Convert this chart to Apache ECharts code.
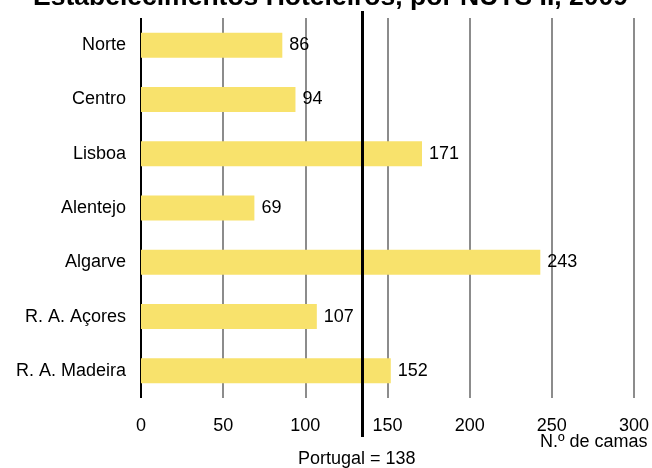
<!DOCTYPE html>
<html><head><meta charset="utf-8">
<script src="https://cdn.jsdelivr.net/npm/echarts@6/dist/echarts.min.js"></script>
<style>html,body{margin:0;padding:0;background:#fff}#c{width:652px;height:468px}</style>
</head><body><div id="c"></div>
<script>
const categories = ['Norte','Centro','Lisboa','Alentejo','Algarve','R. A. Açores','R. A. Madeira'];
const values = [86, 94, 171, 69, 243, 107, 152];
const xTicks = [0, 50, 100, 150, 200, 250, 300];
const portugalValue = 138;
const portugalLinePos = 134;
const titleText = 'Estabelecimentos Hoteleiros, por NUTS II, 2009';
const unitText = 'N.º de camas';

const FONT = 'Liberation Sans, Arial, sans-serif';
const chart = echarts.init(document.getElementById('c'), null, {renderer:'canvas'});
const L = 141, R = 16;
chart.setOption({
  animation:false,
  title:{text:titleText, left:28, top:-21, textStyle:{fontFamily:FONT, fontSize:26.5, fontWeight:'bold', color:'#000'}},
  grid:[
    {left:L, right:R, top:18, bottom:70},
    {left:L, right:R, top:11, bottom:31}
  ],
  xAxis:[
    {gridIndex:0, type:'value', min:0, max:300, interval:50,
     axisLine:{show:false}, axisTick:{show:false},
     axisLabel:{margin:19, fontFamily:FONT, fontSize:18, color:'#000',
       formatter:function(v){return xTicks.indexOf(v)>=0?String(v):'';}},
     splitLine:{show:true, lineStyle:{color:['#000','#8c8c8c','#8c8c8c','#8c8c8c','#8c8c8c','#8c8c8c','#8c8c8c'], width:2}}},
    {gridIndex:1, type:'value', min:0, max:300, show:false}
  ],
  yAxis:[
    {gridIndex:0, type:'category', data:categories, inverse:true,
     axisLine:{show:false}, axisTick:{show:false},
     axisLabel:{margin:15, fontFamily:FONT, fontSize:18, color:'#000'}},
    {gridIndex:1, type:'value', show:false, min:0, max:1}
  ],
  series:[
    {type:'bar', xAxisIndex:0, yAxisIndex:0, data:values, barWidth:'46%', z:3,
     itemStyle:{color:'#F8E26C'},
     label:{show:true, position:'right', distance:7, fontFamily:FONT, fontSize:18, color:'#000'}},
    {type:'line', xAxisIndex:1, yAxisIndex:1, data:[], z:5,
     markLine:{silent:true, symbol:['none','none'], label:{show:false},
       lineStyle:{color:'#000', width:3, type:'solid'},
       data:[{xAxis:portugalLinePos}]}}
  ],
  graphic:[
    {type:'text', left:540, top:433, style:{text:unitText, fontFamily:FONT, fontSize:18, fill:'#000'}},
    {type:'text', left:298, top:450, style:{text:'Portugal = ' + portugalValue, fontFamily:FONT, fontSize:18, fill:'#000'}}
  ]
});
</script></body></html>
